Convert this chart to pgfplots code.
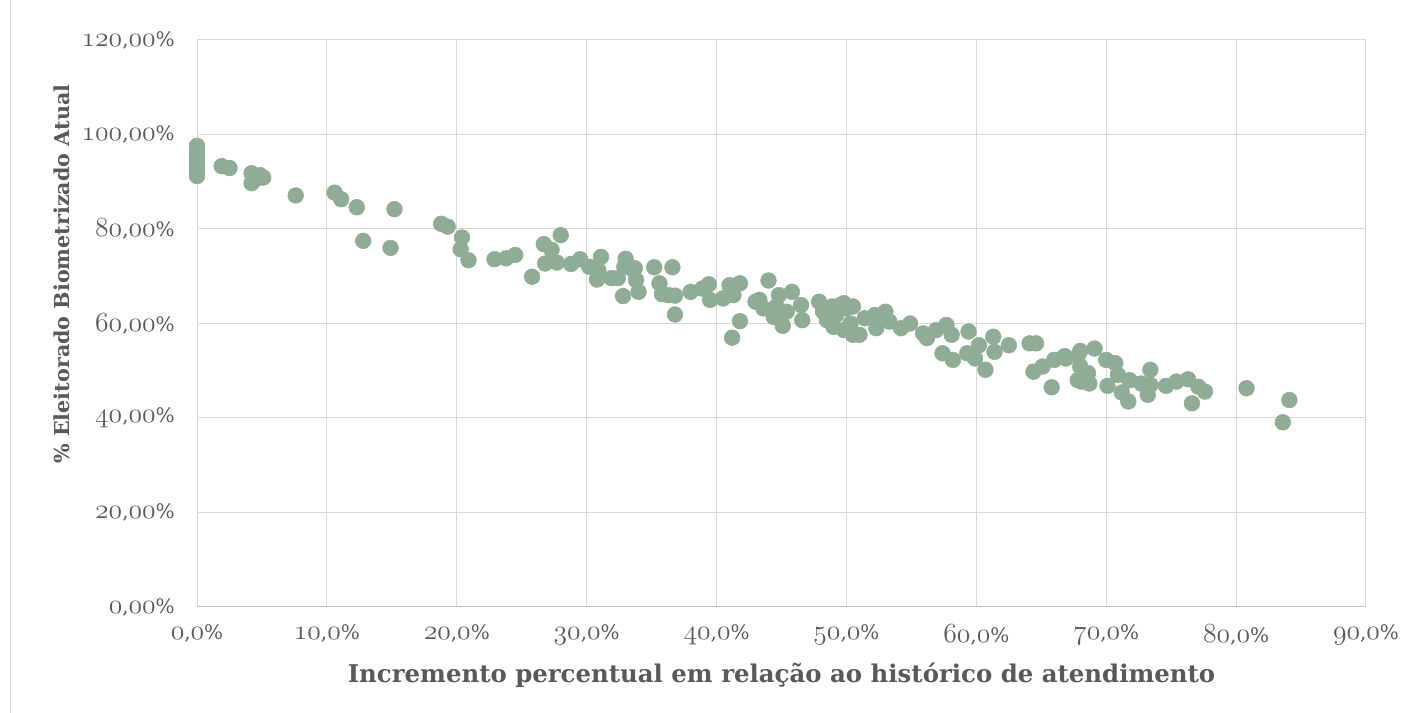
\documentclass[border=0pt]{standalone}
\usepackage{pgfplots}
\pgfplotsset{compat=1.18}
\usepackage{fontspec}
\setmainfont{DejaVu Serif}
\definecolor{txt}{HTML}{595959}
\definecolor{grd}{HTML}{D9D9D9}
\definecolor{axl}{HTML}{BFBFBF}
\definecolor{pt}{RGB}{143,172,148}
\newcommand{\os}[1]{{\fontencoding{OML}\fontfamily{cmm}\fontseries{m}\fontshape{it}\fontsize{21}{24}\selectfont #1}}
\newcommand{\xl}[1]{\os{#1},\os{0}\%}
\newcommand{\yl}[1]{\os{#1},\os{00}\%}
\begin{document}
\begin{tikzpicture}
\useasboundingbox (0,0) rectangle (1056.75pt,534.75pt);
\draw[grd, line width=0.75pt] (7.5pt,-5pt) -- (7.5pt,540pt);
\begin{axis}[
  at={(147.75pt,79.5pt)}, anchor=south west,
  scale only axis, width=876.75pt, height=425.25pt,
  xmin=0, xmax=90, ymin=0, ymax=120,
  axis line style={draw=none},
  xtick={0,10,...,90}, ytick={0,20,...,120},
  xticklabels={\xl{0},\xl{10},\xl{20},\xl{30},\xl{40},\xl{50},\xl{60},\xl{70},\xl{80},\xl{90}},
  yticklabels={\yl{0},\yl{20},\yl{40},\yl{60},\yl{80},\yl{100},\yl{120}},
  grid=major,
  major grid style={grd, line width=0.75pt},
  tick style={draw=none},
  ticklabel style={font=\fontsize{15}{18}\selectfont, text=txt},
  xticklabel style={anchor=north, inner sep=0pt, yshift=-13pt},
  yticklabel style={anchor=east, inner sep=0pt, xshift=-16.5pt},
  xlabel={Incremento percentual em relação ao histórico de atendimento},
  ylabel={\% Eleitorado Biometrizado Atual},
  xlabel style={font=\fontsize{18.3}{21}\selectfont\bfseries, text=txt, at={(axis description cs:0.5,-0.12)}, anchor=center},
  ylabel style={font=\fontsize{15.5}{18}\selectfont\bfseries, text=txt, at={(axis description cs:-0.1155,0.587)}, anchor=center},
  clip=false,
]
\draw[axl, line width=0.75pt] (axis cs:0,0) -- (axis cs:90,0);
\addplot[only marks, mark=*, color=pt, mark size=5.9pt, mark options={fill=pt, draw=pt}] table {
x y
0 97.6
0 96.8
0 96.0
0 95.3
0 94.6
0 93.9
0 93.2
0 92.5
0 91.8
0 91.2
1.9 93.3
2.5 92.9
4.2 91.8
4.85 91.4
5.1 90.9
4.2 89.7
4.55 90.6
7.6 87.1
10.6 87.7
11.1 86.3
12.3 84.6
15.2 84.2
12.8 77.5
14.9 76.0
18.8 81.1
19.3 80.5
20.4 78.2
20.3 75.7
20.9 73.4
22.9 73.6
23.8 73.8
24.5 74.5
25.8 69.9
26.7 76.8
27.3 75.6
28.0 78.7
26.8 72.7
27.7 72.9
28.8 72.6
29.5 73.6
30.2 72.0
31.1 74.1
30.9 71.3
30.8 69.3
31.9 69.6
33.0 73.7
32.8 65.8
33.6 71.3
32.4 69.6
34.0 66.7
32.9 72.0
33.7 71.7
33.8 69.2
35.2 71.9
36.6 71.9
35.6 68.5
35.8 66.2
36.8 65.9
36.3 66.0
36.8 61.9
38.0 66.7
38.9 67.4
39.4 68.3
39.5 65.0
40.5 65.3
41.0 68.1
41.8 68.5
41.3 66.0
41.8 60.5
41.2 57.0
44.0 69.1
43.0 64.6
43.3 65.0
43.6 63.2
44.8 66.0
45.8 66.7
44.6 63.6
45.4 62.5
45.1 59.5
44.4 61.4
46.5 63.9
46.6 60.7
47.9 64.6
48.2 62.5
48.9 63.6
49.5 63.9
49.2 61.8
50.0 63.2
50.3 60.0
50.5 57.6
49.8 58.6
49.0 59.3
48.5 60.7
49.8 64.3
50.5 63.6
50.3 59.3
51.0 57.6
51.4 61.1
52.2 61.8
53.0 62.5
52.3 59.0
53.3 60.4
54.2 59.0
54.9 60.0
55.9 57.9
56.2 56.9
56.9 58.6
57.7 59.7
58.1 57.6
57.4 53.7
58.2 52.3
59.4 58.3
59.3 53.7
59.9 52.6
60.2 55.4
61.3 57.2
61.4 54.0
62.5 55.4
60.7 50.2
64.1 55.8
64.6 55.8
64.4 49.8
65.1 50.9
66.0 52.3
65.8 46.5
66.9 52.6
67.8 53.0
67.8 48.0
66.8 53.1
68.0 54.2
69.1 54.7
68.0 50.9
68.6 49.5
68.1 47.7
68.7 47.3
70.0 52.3
70.7 51.6
70.1 46.8
70.9 49.1
71.8 48.0
71.2 45.4
71.7 43.5
72.7 47.3
73.4 50.2
73.2 44.9
73.4 47.0
74.6 46.8
75.4 47.7
76.3 48.2
76.6 43.1
77.1 46.6
77.6 45.6
80.8 46.3
84.1 43.8
83.6 39.1
};
\end{axis}
\end{tikzpicture}
\end{document}
